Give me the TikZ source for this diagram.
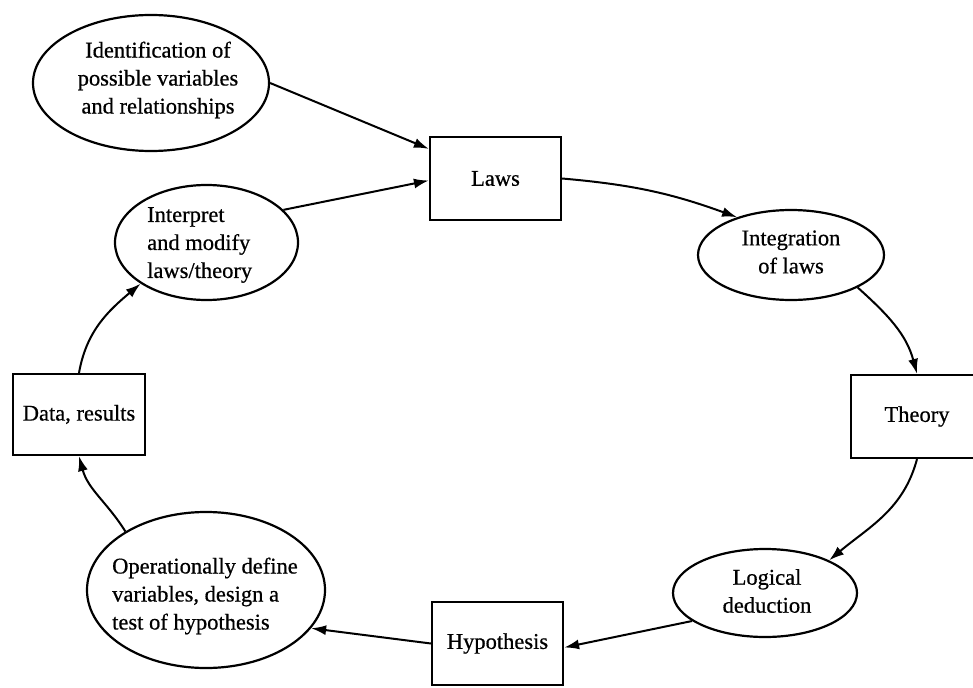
\documentclass[tikz,border=0pt]{standalone}
\usepackage{fontspec}
\setmainfont{Liberation Serif}
\newfontfamily\scanserif[FakeBold=0.6]{Liberation Serif}
\usetikzlibrary{shapes.geometric,arrows.meta,calc}
\begin{document}
\begin{tikzpicture}[x=1pt,y=1pt,
  every node/.style={font=\scanserif\fontsize{22.5}{28}\selectfont},
  oval/.style={ellipse, draw, line width=2.2pt, inner sep=0pt},
  card/.style={rectangle, draw, line width=2.2pt, inner sep=0pt},
  lbl/.style={inner sep=0pt, align=center},
  lbll/.style={inner sep=0pt, align=left, anchor=west},
  flow/.style={line width=2pt, -{Latex[length=15pt,width=10pt]}}]
\clip (0,0) rectangle (973,-687);
\fill[white] (0,0) rectangle (973,-687);

% ovals (process steps)
\node[oval, minimum width=236, minimum height=136] (ident) at (151,-83) {};
\node[lbl] (identT) at (158,-80) {Identification of\\possible variables\\and relationships};

\node[oval, minimum width=183, minimum height=115] (interp) at (206.5,-242.5) {};
\node[lbll] (interpT) at (147,-245) {Interpret\\and modify\\laws/theory};

\node[oval, minimum width=186, minimum height=90] (integ) at (791,-255) {};
\node[lbl] (integT) at (791,-252) {Integration\\of laws};

\node[oval, minimum width=184, minimum height=88] (logic) at (765,-593) {};
\node[lbl] (logicT) at (767,-591) {Logical\\deduction};

\node[oval, minimum width=238, minimum height=156] (oper) at (206,-590) {};
\node[lbll] (operT) at (112,-596) {Operationally define\\variables, design a\\test of hypothesis};

% boxes (products)
\node[card, minimum width=131, minimum height=83] (laws) at (495.5,-178.5) {Laws};
\node[card, minimum width=132, minimum height=83] (theory) at (917,-416.5) {Theory};
\node[card, minimum width=131, minimum height=83] (hyp) at (497.5,-643.5) {Hypothesis};
\node[card, minimum width=132, minimum height=81] (data) at (79,-414.5) {Data, results};

% connectors
\draw[flow] (ident.east) -- ($(laws.north west)+(0,-13)$);
\draw[flow] (interp.23) -- ($(laws.west)+(0,-2)$);
\draw[flow] (laws.east) to[out=-5, in=160] (integ.145);
\draw[flow] (integ.-26) to[out=-42, in=105] (theory.north);
\draw[flow] (theory.south) to[out=-105, in=40] (logic.27);
\draw[flow] (logic.201) -- ($(hyp.east)+(0,-4)$);
\draw[flow] (hyp.west) -- (oper.-20);
\draw[flow] (oper.144) to[out=122, in=-75] (data.south);
\draw[flow] (data.north) to[out=80, in=220] (interp.212);
\end{tikzpicture}
\end{document}
